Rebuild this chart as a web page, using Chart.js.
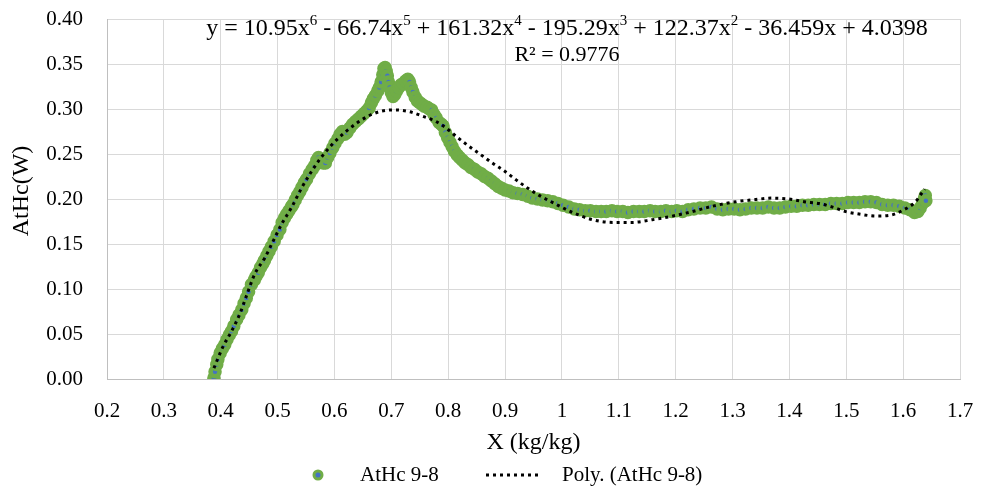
<!DOCTYPE html>
<html>
<head>
<meta charset="utf-8">
<script src="https://cdn.jsdelivr.net/npm/chart.js@4.4.1/dist/chart.umd.min.js"></script>
<style>
  body { margin: 0; background: #fff; }
  #chart { display: block; }
</style>
</head>
<body>
<canvas id="chart" width="981" height="488"></canvas>
<script>
const dataX = [
  0.388, 0.390, 0.393, 0.395, 0.399, 0.403, 0.407, 0.411, 0.415, 0.419,
  0.423, 0.428, 0.432, 0.437, 0.441, 0.445, 0.449, 0.454, 0.459, 0.462,
  0.466, 0.470, 0.474, 0.477, 0.481, 0.485, 0.489, 0.494, 0.499, 0.504,
  0.508, 0.512, 0.516, 0.520, 0.524, 0.527, 0.531, 0.535, 0.539, 0.543,
  0.547, 0.551, 0.556, 0.561, 0.565, 0.569, 0.572, 0.576, 0.580, 0.584,
  0.588, 0.592, 0.597, 0.601, 0.606, 0.610, 0.614, 0.618, 0.622, 0.627,
  0.632, 0.637, 0.642, 0.647, 0.652, 0.657, 0.661, 0.665, 0.668, 0.672,
  0.676, 0.679, 0.682, 0.685, 0.687, 0.689, 0.691, 0.693, 0.695, 0.697,
  0.700, 0.703, 0.706, 0.709, 0.713, 0.717, 0.721, 0.725, 0.729, 0.732,
  0.735, 0.738, 0.742, 0.746, 0.750, 0.754, 0.758, 0.763, 0.767, 0.771,
  0.775, 0.779, 0.784, 0.788, 0.791, 0.795, 0.799, 0.803, 0.807, 0.811,
  0.816, 0.820, 0.825, 0.830, 0.835, 0.840, 0.846, 0.852, 0.858, 0.864,
  0.870, 0.876, 0.882, 0.888, 0.894, 0.900, 0.907, 0.914, 0.922, 0.931,
  0.940, 0.948, 0.957, 0.966, 0.975, 0.984, 0.993, 1.002, 1.012, 1.022,
  1.031, 1.041, 1.050, 1.060, 1.069, 1.078, 1.088, 1.097, 1.107, 1.116,
  1.126, 1.136, 1.145, 1.155, 1.164, 1.174, 1.183, 1.193, 1.202, 1.212,
  1.222, 1.232, 1.243, 1.253, 1.263, 1.273, 1.283, 1.293, 1.303, 1.313,
  1.323, 1.333, 1.343, 1.353, 1.363, 1.373, 1.383, 1.393, 1.403, 1.413,
  1.423, 1.433, 1.443, 1.453, 1.463, 1.473, 1.483, 1.493, 1.503, 1.513,
  1.523, 1.533, 1.543, 1.553, 1.563, 1.573, 1.583, 1.593, 1.603, 1.612,
  1.620, 1.626, 1.630, 1.634, 1.637, 1.639, 1.640
];
const dataY = [
  0.001, 0.008, 0.016, 0.022, 0.029, 0.034, 0.038, 0.044, 0.049, 0.053,
  0.059, 0.066, 0.071, 0.077, 0.084, 0.090, 0.097, 0.105, 0.110, 0.114,
  0.118, 0.124, 0.128, 0.132, 0.137, 0.142, 0.147, 0.153, 0.160, 0.166,
  0.174, 0.179, 0.183, 0.187, 0.191, 0.194, 0.199, 0.204, 0.208, 0.213,
  0.218, 0.222, 0.228, 0.233, 0.237, 0.243, 0.246, 0.241, 0.240, 0.240,
  0.246, 0.251, 0.257, 0.262, 0.267, 0.272, 0.275, 0.272, 0.274, 0.279,
  0.283, 0.286, 0.289, 0.292, 0.295, 0.298, 0.301, 0.307, 0.311, 0.315,
  0.320, 0.324, 0.330, 0.338, 0.345, 0.346, 0.342, 0.337, 0.330, 0.324,
  0.318, 0.314, 0.316, 0.320, 0.324, 0.327, 0.328, 0.331, 0.333, 0.330,
  0.324, 0.319, 0.313, 0.309, 0.307, 0.305, 0.303, 0.302, 0.300, 0.299,
  0.294, 0.290, 0.285, 0.283, 0.281, 0.274, 0.268, 0.263, 0.258, 0.253,
  0.249, 0.246, 0.243, 0.240, 0.238, 0.235, 0.233, 0.230, 0.228, 0.225,
  0.223, 0.220, 0.217, 0.214, 0.212, 0.210, 0.209, 0.207, 0.206, 0.205,
  0.203, 0.201, 0.200, 0.199, 0.198, 0.197, 0.195, 0.193, 0.191, 0.189,
  0.188, 0.187, 0.187, 0.186, 0.186, 0.186, 0.187, 0.186, 0.186, 0.185,
  0.186, 0.186, 0.186, 0.187, 0.186, 0.186, 0.187, 0.186, 0.187, 0.186,
  0.188, 0.189, 0.190, 0.190, 0.191, 0.189, 0.188, 0.189, 0.189, 0.188,
  0.189, 0.190, 0.190, 0.190, 0.191, 0.190, 0.190, 0.191, 0.192, 0.192,
  0.193, 0.193, 0.194, 0.194, 0.194, 0.195, 0.195, 0.195, 0.196, 0.196,
  0.196, 0.197, 0.197, 0.196, 0.194, 0.193, 0.193, 0.192, 0.190, 0.188,
  0.185, 0.186, 0.190, 0.195, 0.200, 0.204, 0.198
];

// Poly. (AtHc 9-8) trendline
const trendX = [
  0.388, 0.404, 0.419, 0.434, 0.445, 0.460, 0.477, 0.492, 0.507, 0.524,
  0.542, 0.559, 0.574, 0.595, 0.624, 0.656, 0.679, 0.706, 0.732, 0.755,
  0.779, 0.796, 0.817, 0.840, 0.860, 0.880, 0.899, 0.920, 0.940, 0.960,
  0.984, 1.019, 1.054, 1.089, 1.124, 1.159, 1.194, 1.229, 1.265, 1.306,
  1.335, 1.370, 1.399, 1.426, 1.452, 1.476, 1.499, 1.525, 1.552, 1.578,
  1.601, 1.622, 1.631, 1.638
];
const trendY = [
  0.012, 0.036, 0.053, 0.073, 0.092, 0.117, 0.134, 0.153, 0.172, 0.190,
  0.212, 0.230, 0.244, 0.260, 0.277, 0.291, 0.297, 0.299, 0.297, 0.292,
  0.286, 0.279, 0.268, 0.257, 0.248, 0.239, 0.231, 0.221, 0.212, 0.204,
  0.196, 0.185, 0.177, 0.174, 0.174, 0.177, 0.181, 0.186, 0.192, 0.197,
  0.199, 0.201, 0.200, 0.197, 0.195, 0.191, 0.186, 0.183, 0.181, 0.182,
  0.188, 0.197, 0.205, 0.211
];

const seriesNames = ["AtHc 9-8", "Poly. (AtHc 9-8)"];
const xTitle = "X (kg/kg)";
const yTitle = "AtHc(W)";
// equation pieces: [text, isSuperscript]
const equationParts = [
  ["y = 10.95x", 0], ["6", 1], [" - 66.74x", 0], ["5", 1],
  [" + 161.32x", 0], ["4", 1], [" - 195.29x", 0], ["3", 1],
  [" + 122.37x", 0], ["2", 1], [" - 36.459x + 4.0398", 0]
];
const rSquared = "R\u00B2 = 0.9776";

const SERIF = '"Liberation Serif", "Times New Roman", serif';
const GREEN = "#70AD47";
const BLUE = "#4472C4";

const toPoints = (xs, ys) => xs.map((x, i) => ({ x: x, y: ys[i] }));

// no extra room for overhanging tick labels, the plot box is fixed
const noPad = s => { s.paddingTop = 0; s.paddingBottom = 0; s.paddingLeft = 0; s.paddingRight = 0; };

// text, equation and legend drawn on top
const annotations = {
  id: "annotations",
  afterDraw(chart) {
    const ctx = chart.ctx;
    const area = chart.chartArea;
    ctx.save();
    ctx.fillStyle = "#000";
    ctx.textBaseline = "middle";

    // equation
    const big = "24px " + SERIF, small = "15px " + SERIF;
    let total = 0;
    equationParts.forEach(p => {
      ctx.font = p[1] ? small : big;
      total += ctx.measureText(p[0]).width;
    });
    let ex = 567 - total / 2;
    ctx.textAlign = "left";
    equationParts.forEach(p => {
      ctx.font = p[1] ? small : big;
      ctx.fillText(p[0], ex, p[1] ? 21 : 29);
      ex += ctx.measureText(p[0]).width;
    });
    ctx.font = "22px " + SERIF;
    ctx.textAlign = "center";
    ctx.fillText(rSquared, 567, 55);

    // axis titles
    ctx.font = "24px " + SERIF;
    ctx.fillText(xTitle, (area.left + area.right) / 2, 443);
    ctx.save();
    ctx.translate(22, 191);
    ctx.rotate(-Math.PI / 2);
    ctx.fillText(yTitle, 0, 0);
    ctx.restore();

    // legend
    const ly = 475;
    ctx.beginPath();
    ctx.arc(318, ly, 4, 0, Math.PI * 2);
    ctx.fillStyle = BLUE;
    ctx.fill();
    ctx.lineWidth = 3;
    ctx.strokeStyle = GREEN;
    ctx.stroke();
    ctx.fillStyle = "#000";
    ctx.font = "21px " + SERIF;
    ctx.textAlign = "left";
    ctx.fillText(seriesNames[0], 360, ly);
    ctx.beginPath();
    ctx.setLineDash([3, 4]);
    ctx.lineWidth = 3;
    ctx.strokeStyle = "#000";
    ctx.moveTo(486, ly);
    ctx.lineTo(541, ly);
    ctx.stroke();
    ctx.setLineDash([]);
    ctx.fillText(seriesNames[1], 562, ly);
    ctx.restore();
  }
};

new Chart(document.getElementById("chart"), {
  type: "scatter",
  plugins: [annotations],
  data: {
    datasets: [
      {
        label: seriesNames[1],
        data: toPoints(trendX, trendY),
        showLine: true,
        pointRadius: 0,
        borderColor: "#000",
        borderWidth: 3,
        borderDash: [3, 4],
        cubicInterpolationMode: "monotone",
        order: 0
      },
      {
        label: seriesNames[0],
        data: toPoints(dataX, dataY),
        showLine: false,
        pointRadius: 4.5,
        pointBorderWidth: 4.5,
        pointBackgroundColor: BLUE,
        pointBorderColor: GREEN,
        order: 1
      }
    ]
  },
  options: {
    responsive: false,
    animation: false,
    devicePixelRatio: 1,
    layout: { padding: { left: 0, top: 19, right: 21, bottom: 0 } },
    plugins: {
      legend: { display: false },
      tooltip: { enabled: false }
    },
    scales: {
      x: {
        type: "linear",
        min: 0.2,
        max: 1.7,
        afterFit: s => { s.height = 109; noPad(s); },
        ticks: {
          stepSize: 0.1,
          padding: 20,
          color: "#000",
          font: { family: SERIF, size: 21 },
          callback: v => String(Number(v.toFixed(1)))
        },
        grid: { color: "#d9d9d9", drawTicks: false },
        border: { color: "#bfbfbf", width: 1 }
      },
      y: {
        min: 0,
        max: 0.4,
        afterFit: s => { s.width = 107; noPad(s); },
        ticks: {
          stepSize: 0.05,
          padding: 24,
          color: "#000",
          font: { family: SERIF, size: 21 },
          callback: v => v.toFixed(2)
        },
        grid: { color: "#d9d9d9", drawTicks: false },
        border: { color: "#bfbfbf", width: 1 }
      }
    }
  }
});
</script>
</body>
</html>
